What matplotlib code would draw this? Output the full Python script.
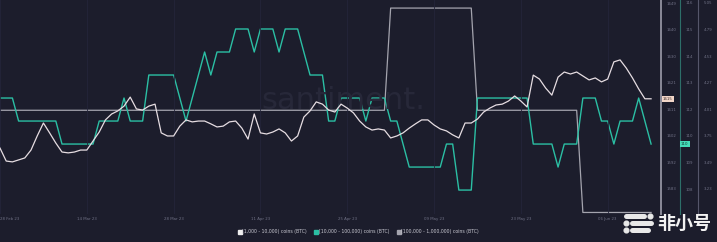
import numpy as np
import pandas as pd
import matplotlib
matplotlib.use('Agg')
import matplotlib.pyplot as plt
import matplotlib.dates as mdates
import matplotlib.transforms as mtransforms
from matplotlib.lines import Line2D

plt.rcParams['font.family'] = ['DejaVu Sans', 'Noto Sans CJK SC']

# 数据（按图读取，每日一点，从 2023-02-28 开始）
white_vals = [
    1597.5, 1592.9, 1592.6, 1593.3, 1594.0, 1596.8, 1601.8, 1606.4, 1602.9, 1599.3,
    1596.1, 1595.8, 1596.1, 1596.8, 1596.8, 1600.0, 1603.2, 1607.5, 1609.6, 1610.7,
    1612.4, 1615.6, 1611.4, 1611.0, 1612.4, 1613.1, 1602.9, 1601.8, 1601.8, 1605.3,
    1607.5, 1606.8, 1607.1, 1607.1, 1606.1, 1605.0, 1605.3, 1606.8, 1607.1, 1604.6,
    1600.7, 1609.6, 1602.9, 1602.5, 1603.2, 1604.3, 1602.9, 1600.0, 1601.8, 1608.5,
    1610.7, 1613.9, 1613.1, 1611.0, 1610.3, 1613.1, 1611.7, 1610.0, 1607.1, 1605.0,
    1603.9, 1604.3, 1603.9, 1601.1, 1601.8, 1602.9, 1604.6, 1606.1, 1607.5, 1607.5,
    1605.7, 1604.3, 1603.6, 1602.2, 1601.1, 1606.4, 1606.4, 1607.8, 1610.3, 1611.7,
    1612.8, 1613.1, 1614.2, 1616.0, 1614.2, 1612.1, 1623.4, 1622.0, 1618.8, 1616.3,
    1622.7, 1624.5, 1623.8, 1624.5, 1623.1, 1621.7, 1622.4, 1621.0, 1622.0, 1628.1,
    1628.8, 1625.9, 1622.4, 1618.5, 1615.0, 1615.0,
]
teal_vals = (
    [112] * 3 + [111] * 7 + [110] * 6 + [111] * 4 + [112] + [111] * 3 + [113] * 5
    + [112, 111, 112, 113, 114, 113] + [114] * 3 + [115] * 3 + [114] + [115] * 3
    + [114] + [115] * 3 + [114] + [113] * 3 + [111] * 2 + [112] * 4 + [111]
    + [112] * 3 + [111] * 2 + [110] + [109] * 6 + [110] * 2 + [108] * 3
    + [112] * 9 + [110] * 4 + [109] + [110] * 3 + [112] * 3 + [111] * 2 + [110]
    + [111] * 3 + [112, 111, 110]
)
gray_vals = [4] * 63 + [5] * 14 + [4] * 17 + [3] * 12

start_date = '2023-02-28'
tick_dates = pd.date_range(start_date, periods=8, freq='14D')
legend_labels = ['[1,000 - 10,000) coins (BTC)',
                 '[10,000 - 100,000) coins (BTC)',
                 '[100,000 - 1,000,000) coins (BTC)']

white_ticks = np.linspace(1649, 1583, 8)
teal_ticks = np.linspace(116.13, 108.04, 8)
gray_ticks = np.linspace(5.05, 3.23, 8)

# 颜色
bg = '#1c1d2c'
c_white = '#e6dde2'
c_teal = '#2bbfa4'
c_gray = '#a4a4ae'
c_text = '#707286'

dates = pd.date_range(start_date, periods=len(white_vals))

W, H = 717, 242
fig = plt.figure(figsize=(W / 100, H / 100), dpi=100, facecolor=bg)
ax = fig.add_axes([0, (H - 214) / H, 661 / W, 214 / H], facecolor=bg)
ax_t = ax.twinx()
ax_g = ax.twinx()

# 水印
ax.text(0.52, 0.53, 'santiment.', transform=ax.transAxes, fontsize=22,
        color='#272839', ha='center', va='center', zorder=0)

ax_g.plot(dates, gray_vals, color=c_gray, lw=0.9)
ax_t.plot(dates, teal_vals, color=c_teal, lw=1.0)
ax.plot(dates[:len(white_vals)], white_vals, color=c_white, lw=0.9, zorder=5)
ax.set_zorder(ax_g.get_zorder() + 2)
ax.patch.set_visible(True)
ax_t.set_zorder(ax_g.get_zorder() + 1)
fig.patches.append(plt.Rectangle((0, 0), 1, 1, transform=fig.transFigure,
                                 facecolor=bg, zorder=-10))
ax.patch.set_alpha(0)

ax.set_xlim(dates[0], dates[0] + pd.Timedelta(days=106.6))
ax.set_ylim(1574.1, 1650.07)
ax_t.set_ylim(106.96, 116.26)
ax_g.set_ylim(2.985, 5.079)

ax.set_xticks(tick_dates)
ax.xaxis.set_major_formatter(mdates.DateFormatter('%d %b %y'))
ax.tick_params(axis='x', length=0, pad=2, labelsize=2.8, labelcolor=c_text)
ax.get_xticklabels()[0].set_horizontalalignment('left')
ax.grid(axis='x', color='#24253a', lw=0.6)

for spine in ax.spines.values():
    spine.set_visible(False)
for a in (ax_t, ax_g):
    for spine in a.spines.values():
        spine.set_visible(False)

ax.yaxis.tick_right()
ax.spines['right'].set_visible(True)
ax.spines['right'].set_color('#8a8a98')
ax.spines['right'].set_linewidth(1.4)
ax.set_yticks(white_ticks)
ax.set_yticklabels(['%.0f' % v for v in white_ticks])

ax_t.spines['right'].set_visible(True)
ax_t.spines['right'].set_position(('axes', 680 / 661))
ax_t.spines['right'].set_color('#2d6f69')
ax_t.set_yticks(teal_ticks)
ax_t.set_yticklabels(['%.0f' % v for v in teal_ticks])

ax_g.spines['right'].set_visible(True)
ax_g.spines['right'].set_position(('axes', 698 / 661))
ax_g.spines['right'].set_color('#55566a')
ax_g.set_yticks(gray_ticks)
ax_g.set_yticklabels(['%.2f' % v for v in gray_ticks])

for a in (ax, ax_t, ax_g):
    a.tick_params(axis='y', length=0, pad=4, labelsize=2.8, labelcolor=c_text)

# 当前值标签
tr_w = mtransforms.blended_transform_factory(ax.transAxes, ax.transData)
ax.text(1.003, white_vals[-1], '%.0f' % white_vals[-1], transform=tr_w, fontsize=2.8,
        color='#3a2a28', ha='left', va='center', zorder=10,
        bbox=dict(boxstyle='square,pad=0.3', fc='#f2d6c8', ec='none'))
tr_t = mtransforms.blended_transform_factory(ax_t.transAxes, ax_t.transData)
ax_t.text(681 / 661, teal_vals[-1], '%d' % teal_vals[-1], transform=tr_t, fontsize=2.8,
          color='#0f3a32', ha='left', va='center', zorder=10,
          bbox=dict(boxstyle='square,pad=0.3', fc='#45dcb8', ec='none'))

# 图例
handles = [Line2D([], [], marker='s', ls='none', ms=2.6, mfc=c, mec=c)
           for c in ('#eeeeee', c_teal, c_gray)]
fig.legend(handles, legend_labels, loc='center', bbox_to_anchor=(0.5, 10 / H),
           ncol=3, frameon=False, fontsize=3.3, labelcolor='#c9c9d2',
           handletextpad=0.2, columnspacing=1.6, handlelength=0.8)

# 非小号 水印
fx = lambda px: px / W
fy = lambda py: 1 - py / H
for (x0, x1), yy in [((626, 644), 216), ((632, 651), 223), ((632, 648), 230)]:
    fig.add_artist(Line2D([fx(x0), fx(x1)], [fy(yy), fy(yy)], transform=fig.transFigure,
                          color='#e8e8e8', lw=3.6, solid_capstyle='round'))
for xx, yy in [(650, 216), (626, 223), (626, 230)]:
    fig.add_artist(Line2D([fx(xx)], [fy(yy)], transform=fig.transFigure, marker='o',
                          ms=3.4, color='#e8e8e8'))
fig.text(fx(684), fy(223), '非小号', fontsize=13, fontweight='bold', color='#f2f2f2',
         ha='center', va='center', family=['Noto Sans CJK SC', 'DejaVu Sans'])

fig.savefig('out.png', dpi=100, facecolor=bg)
